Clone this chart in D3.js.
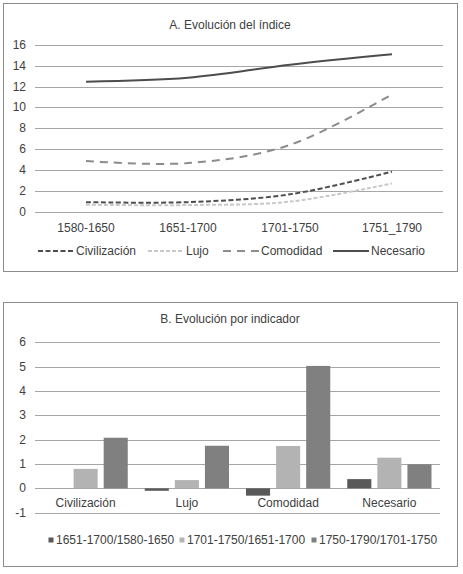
<!DOCTYPE html>
<html>
<head>
<meta charset="utf-8">
<script src="https://cdn.jsdelivr.net/npm/d3@7"></script>
<style>
  body { margin: 0; background: #fff; }
  svg text { font-family: "Liberation Sans", Arial, sans-serif; font-size: 12px; fill: #404040; }
</style>
</head>
<body>
<svg id="chart" width="463" height="574"></svg>
<script>
// top chart data
const periods = ["1580-1650", "1651-1700", "1701-1750", "1751_1790"];
const civilizacion = [0.9, 0.9, 1.65, 3.83];
const lujo = [0.65, 0.62, 0.95, 2.7];
const comodidad = [4.85, 4.65, 6.4, 11.25];
const necesario = [12.48, 12.85, 14.1, 15.1];
const lineTicks = [0, 2, 4, 6, 8, 10, 12, 14, 16];

// bottom chart data
const indicadores = ["Civilización", "Lujo", "Comodidad", "Necesario"];
const cambios = ["1651-1700/1580-1650", "1701-1750/1651-1700", "1750-1790/1701-1750"];
const cambio1 = [0.0, -0.1, -0.3, 0.38];
const cambio2 = [0.8, 0.34, 1.74, 1.26];
const cambio3 = [2.08, 1.75, 5.03, 0.99];
const barTicks = [-1, 0, 1, 2, 3, 4, 5, 6];

const svg = d3.select("#chart");

// ---------- A. Evolución del índice ----------
const gA = svg.append("g");
gA.append("rect")
  .attr("x", 3.5).attr("y", 3.5).attr("width", 454).attr("height", 268)
  .attr("fill", "#fff").attr("stroke", "#8c8c8c");

gA.append("text")
  .attr("x", 230).attr("y", 29)
  .attr("text-anchor", "middle")
  .text("A. Evolución del índice");

const xA = d3.scaleBand().domain(periods).range([35, 443]);
const yA = d3.scaleLinear().domain([0, 16]).range([211.5, 45]);

gA.append("g").selectAll("line")
  .data(lineTicks)
  .join("line")
  .attr("x1", 35).attr("x2", 443)
  .attr("y1", d => Math.round(yA(d)) + 0.5)
  .attr("y2", d => Math.round(yA(d)) + 0.5)
  .attr("stroke", "#a6a6a6");

gA.append("g").selectAll("text")
  .data(lineTicks)
  .join("text")
  .attr("x", 26).attr("y", d => yA(d) + 4)
  .attr("text-anchor", "end")
  .text(d => d);

gA.append("g").selectAll("text")
  .data(periods)
  .join("text")
  .attr("x", d => xA(d) + xA.bandwidth() / 2)
  .attr("y", 232)
  .attr("text-anchor", "middle")
  .text(d => d);

const series = [
  { name: "Civilización", values: civilizacion, color: "#4d4d4d", dash: "5,2.5", width: 2 },
  { name: "Lujo", values: lujo, color: "#c8c8c8", dash: "4,2", width: 2 },
  { name: "Comodidad", values: comodidad, color: "#8c8c8c", dash: "8,6", width: 2 },
  { name: "Necesario", values: necesario, color: "#4d4d4d", dash: null, width: 2 }
];

const line = d3.line()
  .x((d, i) => xA(periods[i]) + xA.bandwidth() / 2)
  .y(d => yA(d))
  .curve(d3.curveCardinal.tension(0));

gA.append("g").selectAll("path")
  .data(series)
  .join("path")
  .attr("d", d => line(d.values))
  .attr("fill", "none")
  .attr("stroke", d => d.color)
  .attr("stroke-width", d => d.width)
  .attr("stroke-dasharray", d => d.dash);

// legend
const legendA = [38, 148, 223, 333];
const lgA = gA.append("g").selectAll("g")
  .data(series)
  .join("g")
  .attr("transform", (d, i) => `translate(${legendA[i]},251)`);
lgA.append("line")
  .attr("x1", 0).attr("x2", 36)
  .attr("stroke", d => d.color)
  .attr("stroke-width", 2)
  .attr("stroke-dasharray", d => d.dash);
lgA.append("text")
  .attr("x", 38).attr("y", 4)
  .text(d => d.name);

// ---------- B. Evolución por indicador ----------
const gB = svg.append("g");
gB.append("rect")
  .attr("x", 3.5).attr("y", 302.5).attr("width", 454).attr("height", 264)
  .attr("fill", "#fff").attr("stroke", "#8c8c8c");

gB.append("text")
  .attr("x", 230).attr("y", 323)
  .attr("text-anchor", "middle")
  .text("B. Evolución por indicador");

const xB = d3.scaleBand().domain(indicadores).range([35, 440]);
const yB = d3.scaleLinear().domain([-1, 6]).range([512.7, 342.3]);
const xInner = d3.scaleBand().domain(cambios)
  .range([8.5, xB.bandwidth() - 8.5])
  .paddingInner(0.2);
const barColors = ["#595959", "#b3b3b3", "#808080"];
const color = d3.scaleOrdinal().domain(cambios).range(barColors);

gB.append("g").selectAll("line")
  .data(barTicks)
  .join("line")
  .attr("x1", 35).attr("x2", 440)
  .attr("y1", d => Math.round(yB(d)) + 0.5)
  .attr("y2", d => Math.round(yB(d)) + 0.5)
  .attr("stroke", "#a6a6a6");

gB.append("g").selectAll("text")
  .data(barTicks)
  .join("text")
  .attr("x", 26).attr("y", d => yB(d) + 4)
  .attr("text-anchor", "end")
  .text(d => d);

const barRows = indicadores.map((k, i) => ({
  key: k,
  vals: [cambio1[i], cambio2[i], cambio3[i]].map((v, j) => ({ serie: cambios[j], v }))
}));

gB.append("g").selectAll("g")
  .data(barRows)
  .join("g")
  .attr("transform", d => `translate(${xB(d.key)},0)`)
  .selectAll("rect")
  .data(d => d.vals)
  .join("rect")
  .attr("x", d => xInner(d.serie))
  .attr("width", xInner.bandwidth())
  .attr("y", d => yB(Math.max(0, d.v)))
  .attr("height", d => Math.abs(yB(d.v) - yB(0)))
  .attr("fill", d => color(d.serie));

gB.append("g").selectAll("text")
  .data(indicadores)
  .join("text")
  .attr("x", d => xB(d) + xB.bandwidth() / 2)
  .attr("y", 507)
  .attr("text-anchor", "middle")
  .text(d => d);

// legend
const legendB = [48.5, 179.5, 311.5];
const lgB = gB.append("g").selectAll("g")
  .data(cambios)
  .join("g")
  .attr("transform", (d, i) => `translate(${legendB[i]},540)`);
lgB.append("rect")
  .attr("x", 0).attr("y", -2.5).attr("width", 5).attr("height", 5)
  .attr("fill", d => color(d));
lgB.append("text")
  .attr("x", 7.5).attr("y", 4)
  .text(d => d);
</script>
</body>
</html>
